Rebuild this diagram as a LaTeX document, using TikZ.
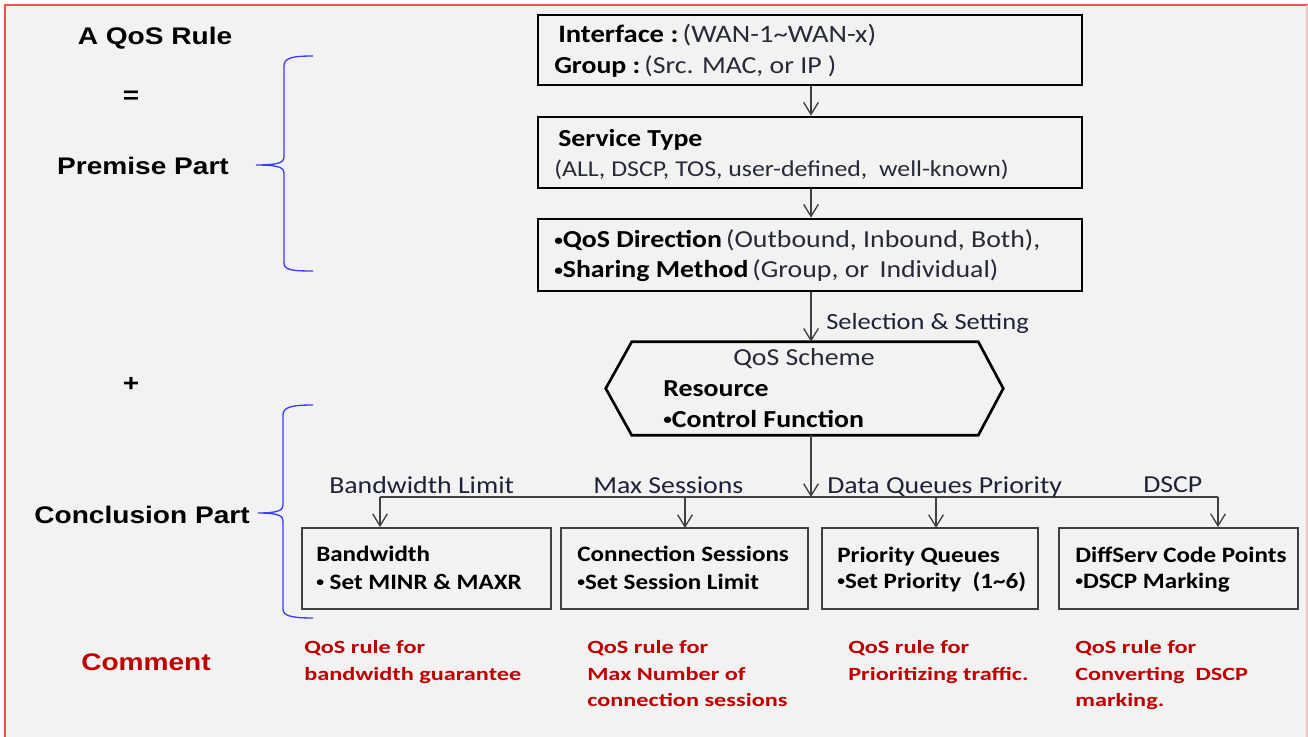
\documentclass[tikz,border=0pt]{standalone}
\usepackage{fontspec}
\setmainfont{Carlito}[FakeStretch=1.14]
\newfontfamily\arialfont{Liberation Sans}[FakeStretch=1.17]
\newfontfamily\cmtfont{Carlito}[FakeStretch=1.3]
\usetikzlibrary{arrows.meta}
\definecolor{bg}{HTML}{F2F2F2}
\definecolor{bord}{HTML}{FF4D4D}
\definecolor{bordr}{HTML}{F2C4C4}
\definecolor{cmt}{HTML}{C00000}
\definecolor{bracec}{HTML}{3C3CFF}
\definecolor{ln}{HTML}{404040}
\definecolor{lbl}{HTML}{1E2238}
\definecolor{reg}{HTML}{262A38}
\newcommand\fBox{\fontsize{18.3pt}{22pt}\selectfont}
\newcommand\fBig{\fontsize{18.8pt}{22pt}\selectfont}
\newcommand\fSm{\fontsize{16.5pt}{20pt}\selectfont}
\newcommand\fCm{\fontsize{14pt}{17pt}\selectfont}
\newcommand\fAr{\fontsize{18pt}{22pt}\selectfont}
\newcommand\bul{\raisebox{0.1em}{\scalebox{0.62}{\textbullet}}}
\begin{document}
\begin{tikzpicture}[x=0.75pt,y=-0.75pt,
  t/.style={inner sep=0pt, anchor=base west},
  tc/.style={inner sep=0pt, anchor=base},
  topbox/.style={draw=black, line width=2pt, inner sep=0pt},
  botbox/.style={draw=ln, line width=1.3pt, inner sep=0pt},
  arr/.style={draw=ln, line width=1pt, -{Straight Barb[length=9pt,width=11pt,line width=1pt]}},
  wire/.style={draw=ln, line width=1pt},
  bracep/.style={draw=bracec, line width=1pt},
  side/.style={inner sep=0pt, anchor=base, font=\arialfont\bfseries\fAr},
  cmtx/.style={inner sep=0pt, anchor=base west, text=cmt, font=\cmtfont\bfseries\fCm},
  lab/.style={inner sep=0pt, anchor=base west, text=lbl, font=\fBox}
]
\useasboundingbox (0,0) rectangle (1308,737);
% background and frame
\fill[white] (0,0) rectangle (1308,737);
\fill[bg] (5,5) rectangle (1308,737);
\draw[bord, line width=2.2pt] (5,737) -- (5,5) -- (1308,5);
\draw[bordr, line width=1pt] (1307,5) -- (1307,737);

% left column
\node[side] (rule) at (155,45) {A QoS Rule};
\node[side] (eq) at (131,104) {=};
\node[side] (prem) at (143,175) {Premise Part};
\node[side] (plus) at (131,391) {+};
\node[side] (concl) at (142,523) {Conclusion Part};
\node[side, text=cmt] (comm) at (146,670) {Comment};

% braces
\draw[bracep] (313,56) .. controls (292,56) and (284,58) .. (284,66) -- (284,157)
  .. controls (284,162) and (280,165) .. (256,165)
  .. controls (280,165) and (284,168) .. (284,173) -- (284,263)
  .. controls (284,270) and (292,271) .. (313,271);
\draw[bracep] (313,405) .. controls (292,405) and (283,407) .. (283,415) -- (283,505)
  .. controls (283,510) and (279,513) .. (258,513)
  .. controls (279,513) and (283,516) .. (283,521) -- (283,609)
  .. controls (283,616) and (292,618) .. (313,618);

% top boxes
\node[topbox, minimum width=544*0.75pt, minimum height=70*0.75pt] (b1) at (810,50) {};
\node[topbox, minimum width=544*0.75pt, minimum height=71*0.75pt] (b2) at (810,152.5) {};
\node[topbox, minimum width=544*0.75pt, minimum height=72*0.75pt] (b3) at (810,255) {};

\node[t, font=\fBig] (b1a) at (558,43) {\textbf{Interface :}\,\textcolor{reg}{(WAN-1\textasciitilde WAN-x)}};
\node[t, font=\fBox] (b1b) at (554,74) {\textbf{Group :}\,\textcolor{reg}{(Src. MAC, or IP )}};
\node[t, font=\fBox] (b2a) at (558,147) {\textbf{Service Type}};
\node[t, font=\fontsize{17pt}{20pt}\selectfont] (b2b) at (554,177) {\textcolor{reg}{(ALL, DSCP, TOS, user-defined,\ \ well-known)}};
\node[t, font=\fBox] (b3a) at (554,248) {\textbf{\bul QoS Direction}\,\textcolor{reg}{(Outbound, Inbound, Both),}};
\node[t, font=\fBox] (b3b) at (554,278) {\textbf{\bul Sharing Method}\,\textcolor{reg}{(Group, or\ \,Individual)}};

\draw[arr] (b1.south -| 811,0) -- (b2.north -| 811,0);
\draw[arr] (b2.south -| 811,0) -- (b3.north -| 811,0);

% QoS scheme hexagon
\node[inner sep=0pt, minimum width=346*0.75pt, minimum height=93*0.75pt] (sch) at (805,388.5) {};
\draw[black, line width=2pt] (sch.north west) -- (sch.north east) -- ([xshift=25*0.75pt]sch.east)
  -- (sch.south east) -- (sch.south west) -- ([xshift=-26*0.75pt]sch.west) -- cycle;
\draw[arr] (b3.south -| 811,0) -- (sch.north -| 811,0);
\node[lab, font=\fontsize{17.4pt}{20pt}\selectfont] (selset) at (826,330) {Selection \& Setting};
\node[tc, font=\fBox, text=reg] (schname) at (804,366) {QoS Scheme};
\node[t, font=\fBox\bfseries] (res) at (663,397) {Resource};
\node[t, font=\fBox\bfseries] (ctl) at (663,427) {\bul Control Function};

% distribution
\coordinate (hub) at (811,497);
\coordinate (h1) at (380,497);
\coordinate (h4) at (1218,497);
\draw[arr] (sch.south -| hub) -- (hub);
\draw[wire] (h1) -- (h4);

% bottom boxes
\node[botbox, minimum width=249*0.75pt, minimum height=81*0.75pt] (c1) at (426.5,568.5) {};
\node[botbox, minimum width=247*0.75pt, minimum height=81*0.75pt] (c2) at (684.5,568.5) {};
\node[botbox, minimum width=216*0.75pt, minimum height=81*0.75pt] (c3) at (930,568.5) {};
\node[botbox, minimum width=239*0.75pt, minimum height=81*0.75pt] (c4) at (1178.5,568.5) {};

\draw[arr] (h1) -- (h1 |- c1.north);
\draw[arr] (685,497) -- (685,528);
\draw[arr] (936,497) -- (936,528);
\draw[arr] (h4) -- (h4 |- c4.north);

\node[lab] (l1) at (329,493) {Bandwidth Limit};
\node[lab] (l2) at (593,493) {Max Sessions};
\node[lab] (l3) at (827,493) {Data Queues Priority};
\node[lab] (l4) at (1143,492) {DSCP};

\node[t, font=\fSm\bfseries] (c1a) at (316,561) {Bandwidth};
\node[t, font=\fSm\bfseries] (c1b) at (316,589) {\bul\ Set MINR \& MAXR};
\node[t, font=\fSm\bfseries] (c2a) at (577,561) {Connection Sessions};
\node[t, font=\fSm\bfseries] (c2b) at (577,589) {\bul Set Session Limit};
\node[t, font=\fSm\bfseries] (c3a) at (837,562) {Priority Queues};
\node[t, font=\fSm\bfseries] (c3b) at (837,588) {\bul Set Priority\ \ (1\textasciitilde 6)};
\node[t, font=\fSm\bfseries] (c4a) at (1075,562) {DiffServ Code Points};
\node[t, font=\fSm\bfseries] (c4b) at (1075,588) {\bul DSCP Marking};

% comments
\node[cmtx] (m1a) at (304,653) {QoS rule for};
\node[cmtx] (m1b) at (304,680) {bandwidth guarantee};
\node[cmtx] (m2a) at (587,653) {QoS rule for};
\node[cmtx] (m2b) at (587,680) {Max Number of};
\node[cmtx] (m2c) at (587,706) {connection sessions};
\node[cmtx] (m3a) at (848,653) {QoS rule for};
\node[cmtx] (m3b) at (848,680) {Prioritizing traffic.};
\node[cmtx] (m4a) at (1075,653) {QoS rule for};
\node[cmtx] (m4b) at (1075,680) {Converting\ \ DSCP};
\node[cmtx] (m4c) at (1075,706) {marking.};
\end{tikzpicture}
\end{document}
